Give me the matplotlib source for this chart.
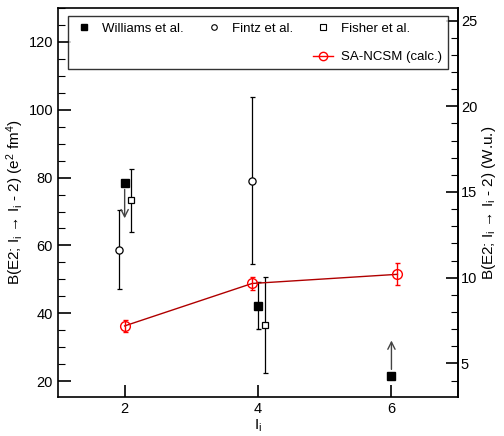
import numpy as np
import matplotlib
matplotlib.use("Agg")
import matplotlib.pyplot as plt
from matplotlib.ticker import MultipleLocator
from matplotlib.lines import Line2D

plt.rcParams['font.family'] = ['Liberation Sans', 'DejaVu Sans']
plt.rcParams['mathtext.fontset'] = 'custom'
plt.rcParams['mathtext.rm'] = 'Liberation Sans'
plt.rcParams['mathtext.it'] = 'Liberation Sans'

# Williams et al.
wil_x = [2.0, 4.0, 6.0]
wil_y = [78.3, 42.3, 21.4]
wil_lo = [0.0, 7.0, 0.0]
wil_hi = [0.0, 6.8, 0.0]
# limit arrows: (x, y_start, y_end)
wil_lim_x = [2.0, 6.0]
wil_lim_y0 = [76.5, 23.5]
wil_lim_y1 = [68.0, 32.0]

# Fintz et al.
fin_x = [1.91, 3.91]
fin_y = [58.7, 79.0]
fin_lo = [11.6, 24.6]
fin_hi = [11.6, 24.8]

# Fisher et al.
fis_x = [2.1, 4.1]
fis_y = [73.5, 36.5]
fis_lo = [9.4, 14.0]
fis_hi = [9.1, 14.1]

# SA-NCSM (calc.)
sa_x = [2.0, 3.91, 6.09]
sa_y = [36.3, 48.8, 51.5]
sa_err = [1.8, 2.0, 3.2]

WU = 5.05  # e^2 fm^4 per W.u.

fig = plt.figure(figsize=(5.04, 4.36), dpi=100)
ax = fig.add_axes([0.115, 0.089, 0.794, 0.893])

ax.errorbar(fis_x, fis_y, yerr=[fis_lo, fis_hi], fmt='s', ms=5, mfc='white',
            mec='black', mew=0.9, ecolor='black', elinewidth=0.9, capsize=1.8)
ax.errorbar(fin_x, fin_y, yerr=[fin_lo, fin_hi], fmt='o', ms=5.2, mfc='white',
            mec='black', mew=0.9, ecolor='black', elinewidth=0.9, capsize=1.8)
for x, y0, y1 in zip(wil_lim_x, wil_lim_y0, wil_lim_y1):
    ax.annotate('', xy=(x, y1), xytext=(x, y0),
                arrowprops=dict(arrowstyle='->', color='#444444', lw=1.0,
                                mutation_scale=13, shrinkA=0, shrinkB=0))
ax.errorbar(wil_x, wil_y, yerr=[wil_lo, wil_hi], fmt='s', ms=6, mfc='black',
            mec='black', ecolor='black', elinewidth=0.9, capsize=1.8)
ax.plot(sa_x, sa_y, '-', color='#b00000', lw=1.0)
ax.errorbar(sa_x, sa_y, yerr=sa_err, fmt='o', ms=7, mfc='none', mec='red',
            mew=1.0, ecolor='red', elinewidth=1.0, capsize=1.8)

ax.set_xlim(1, 7)
ax.set_ylim(15.3, 130)
ax.xaxis.set_major_locator(MultipleLocator(2))
ax.yaxis.set_major_locator(MultipleLocator(20))
ax.yaxis.set_minor_locator(MultipleLocator(5))
ax.tick_params(axis='both', which='both', direction='in', labelsize=10.5,
               top=False, right=False)
ax.tick_params(which='major', length=9, width=1.2)
ax.tick_params(which='minor', length=5, width=0.8)
for s in ax.spines.values():
    s.set_linewidth(1.2)

sec = ax.secondary_yaxis('right', functions=(lambda v: v / WU, lambda v: v * WU))
sec.yaxis.set_major_locator(MultipleLocator(5))
sec.yaxis.set_minor_locator(MultipleLocator(1))
sec.tick_params(which='both', direction='in', labelsize=10.5, pad=2)
sec.tick_params(which='major', length=9, width=1.2)
sec.tick_params(which='minor', length=5, width=0.8)
sec.spines['right'].set_linewidth(1.2)

ax.set_xlabel(r'I$_\mathrm{i}$', fontsize=11, labelpad=1)
ax.set_ylabel('B(E2; I$_\\mathrm{i}$ \u2192 I$_\\mathrm{i}$ - 2) (e$^2$ fm$^4$)',
              fontsize=11, labelpad=2)
sec.set_ylabel('B(E2; I$_\\mathrm{i}$ \u2192 I$_\\mathrm{i}$ - 2) (W.u.)',
               fontsize=11, labelpad=2)

h_w = Line2D([], [], ls='none', marker='s', ms=5, mfc='black', mec='black')
h_fi = Line2D([], [], ls='none', marker='o', ms=4, mfc='white', mec='black', mew=0.8)
h_fs = Line2D([], [], ls='none', marker='s', ms=4, mfc='white', mec='black', mew=0.8)
h_sa = Line2D([], [], ls='-', color='red', lw=1.0, marker='o', ms=6, mfc='none', mec='red')
h_e = Line2D([], [], ls='none')
leg = ax.legend([h_w, h_e, h_fi, h_e, h_fs, h_sa],
                ['Williams et al.', '', 'Fintz et al.', '', 'Fisher et al.', 'SA-NCSM (calc.)'],
                ncol=3, loc='upper left', bbox_to_anchor=(0.025, 0.978, 0.95, 0.0),
                mode='expand', borderaxespad=0, fontsize=9.5, frameon=True,
                fancybox=False, edgecolor='black', borderpad=0.45, handlelength=1.5,
                handletextpad=0.6, labelspacing=1.25, columnspacing=1.0)
leg.get_frame().set_linewidth(1.0)

fig.savefig('out.png', dpi=100)
